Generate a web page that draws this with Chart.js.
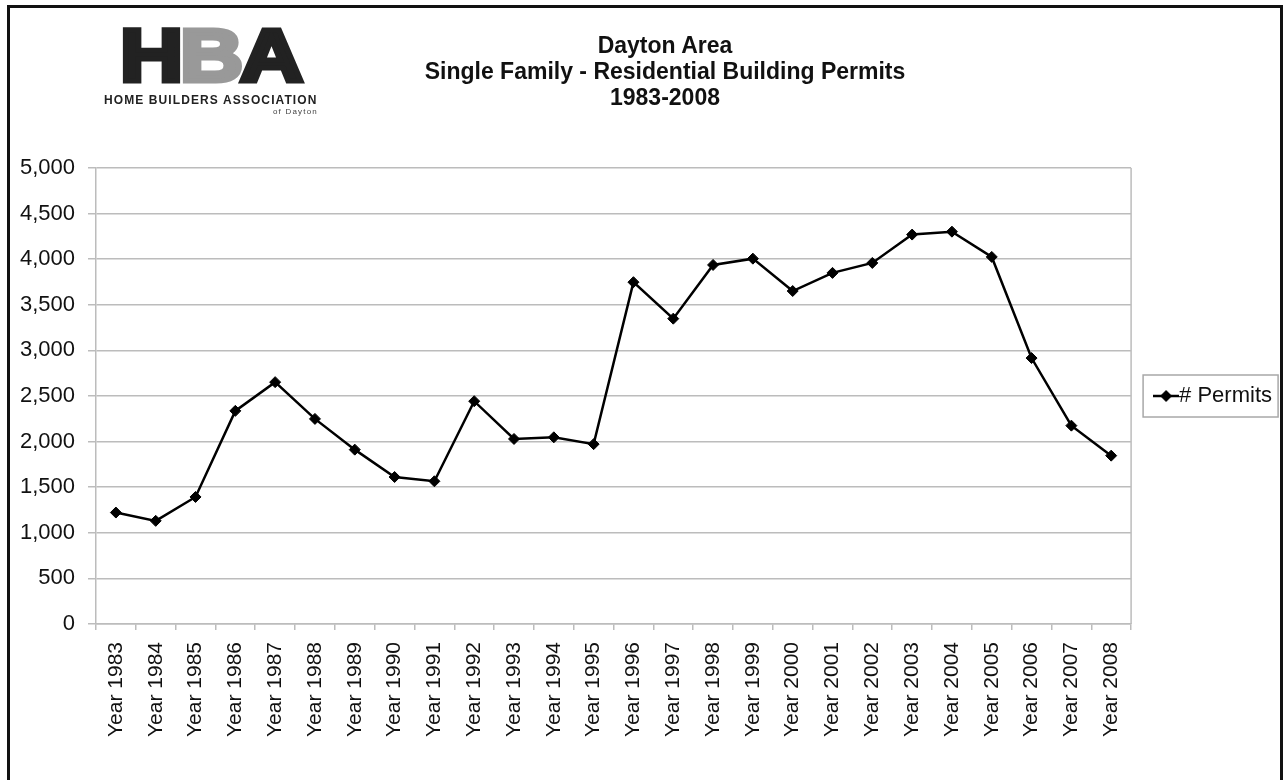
<!DOCTYPE html>
<html>
<head>
<meta charset="utf-8">
<script src="https://cdn.jsdelivr.net/npm/chart.js@4.4.1/dist/chart.umd.min.js"></script>
<style>
  html, body { margin: 0; padding: 0; background: #fff; overflow: hidden; }
  body { width: 1284px; height: 780px; position: relative; font-family: "Liberation Sans", Arial, sans-serif; }
  #frame { position: absolute; left: 7px; top: 5px; width: 1270px; height: 800px;
           border: 3px solid #111; border-bottom: none; pointer-events: none; z-index: 3; }
  #wrap { position: absolute; left: 0; top: 0; width: 1284px; height: 780px; }
  #title { position: absolute; left: 365px; top: 32px; width: 600px; text-align: center;
           font-weight: bold; font-size: 23px; line-height: 26px; color: #111; z-index: 2; }
  #logo { position: absolute; left: 100px; top: 22px; width: 230px; height: 100px; z-index: 2; }
  .big { position: absolute; top: -3px; font-weight: bold; font-size: 74px; line-height: 74px;
         -webkit-text-stroke: 5px currentColor; transform: scaleX(1.18); transform-origin: 0 0; }
  #assoc { position: absolute; left: 4px; top: 71px; font-weight: bold; font-size: 12px;
           letter-spacing: 1.1px; color: #222; white-space: nowrap; }
  #of { position: absolute; right: 12px; top: 85px; font-size: 8px; letter-spacing: 1.2px; color: #444; }
</style>
</head>
<body>
<div id="frame"></div>
<div id="logo">
  <span class="big" style="left:20px;color:#222">H</span>
  <span class="big" style="left:80px;color:#999">B</span>
  <span class="big" style="left:140px;color:#222">A</span>
  <div id="assoc">HOME BUILDERS ASSOCIATION</div>
  <div id="of">of Dayton</div>
</div>
<div id="title">Dayton Area<br>Single Family - Residential Building Permits<br>1983-2008</div>
<div id="wrap"><canvas id="grafico"></canvas></div>
<script>
const years = ["Year 1983", "Year 1984", "Year 1985", "Year 1986", "Year 1987", "Year 1988",
    "Year 1989", "Year 1990", "Year 1991", "Year 1992", "Year 1993", "Year 1994", "Year 1995",
    "Year 1996", "Year 1997", "Year 1998", "Year 1999", "Year 2000", "Year 2001", "Year 2002",
    "Year 2003", "Year 2004", "Year 2005", "Year 2006", "Year 2007", "Year 2008"];
const permits = [1222, 1131, 1393, 2337, 2652, 2249, 1912, 1612, 1565, 2443, 2029, 2047, 1972,
    3748, 3348, 3937, 4006, 3651, 3850, 3959, 4270, 4302, 4025, 2916, 2175, 1846];
const seriesName = "# Permits";
const yMin = 0, yMax = 5000, yStep = 500;

// legend marker: line with a diamond
const marker = document.createElement("canvas");
marker.width = 26; marker.height = 14;
const mctx = marker.getContext("2d");
mctx.strokeStyle = "#000"; mctx.lineWidth = 2.5;
mctx.beginPath(); mctx.moveTo(0, 7); mctx.lineTo(26, 7); mctx.stroke();
mctx.fillStyle = "#000";
mctx.beginPath(); mctx.moveTo(13, 1); mctx.lineTo(19, 7); mctx.lineTo(13, 13); mctx.lineTo(7, 7); mctx.closePath(); mctx.fill();

const gridColor = "#bcbcbc";

const plotFrame = {
    id: "plotFrame",
    afterDraw(chart) {
        const c = chart.ctx, a = chart.chartArea;
        c.save();
        c.strokeStyle = gridColor; c.lineWidth = 1.5;
        c.beginPath(); c.moveTo(a.right, a.top); c.lineTo(a.right, a.bottom); c.stroke();
        const hb = chart.legend.legendHitBoxes[0];
        if (hb) {
            c.strokeStyle = "#a8a8a8"; c.lineWidth = 1.5;
            c.strokeRect(hb.left - 21, hb.top - 10, 135, 42);
        }
        c.restore();
    }
};

const ctx = document.getElementById("grafico").getContext("2d");
const grafico = new Chart(ctx, {
    type: "line",
    data: {
        labels: years,
        datasets: [{
            label: seriesName,
            data: permits,
            borderColor: "#000",
            backgroundColor: "#000",
            borderWidth: 2.5,
            tension: 0,
            pointStyle: "rectRot",
            pointRadius: 5.5,
            pointBorderWidth: 1,
            pointBackgroundColor: "#000",
            pointBorderColor: "#000"
        }]
    },
    options: {
        responsive: true,
        maintainAspectRatio: false,
        animation: false,
        layout: { padding: { top: 168, left: 0, right: 2, bottom: 0 } },
        plugins: {
            title: { display: false },
            tooltip: { enabled: false },
            legend: {
                position: "right",
                fullSize: false,
                align: "center",
                labels: {
                    usePointStyle: true,
                    pointStyle: marker,
                    pointStyleWidth: 4,
                    padding: 33,
                    color: "#111",
                    font: { family: "Liberation Sans", size: 22 }
                }
            }
        },
        scales: {
            x: {
                offset: true,
                grid: { offset: true, drawOnChartArea: false, drawTicks: true, tickLength: 6,
                        color: gridColor, lineWidth: 1.5 },
                border: { color: gridColor, width: 1.5 },
                ticks: { autoSkip: false, maxRotation: 90, minRotation: 90, padding: 12,
                         color: "#111", font: { family: "Liberation Sans", size: 21 } },
                afterFit(scale) { scale.height = 156; }
            },
            y: {
                min: yMin, max: yMax,
                grid: { color: gridColor, lineWidth: 1.5, tickLength: 8 },
                border: { color: gridColor, width: 1.5 },
                ticks: { stepSize: yStep, padding: 13, color: "#111",
                         font: { family: "Liberation Sans", size: 22 },
                         callback: v => v.toLocaleString("en-US") },
                afterFit(scale) { scale.width = 96; }
            }
        }
    },
    plugins: [plotFrame]
});
</script>
</body>
</html>
